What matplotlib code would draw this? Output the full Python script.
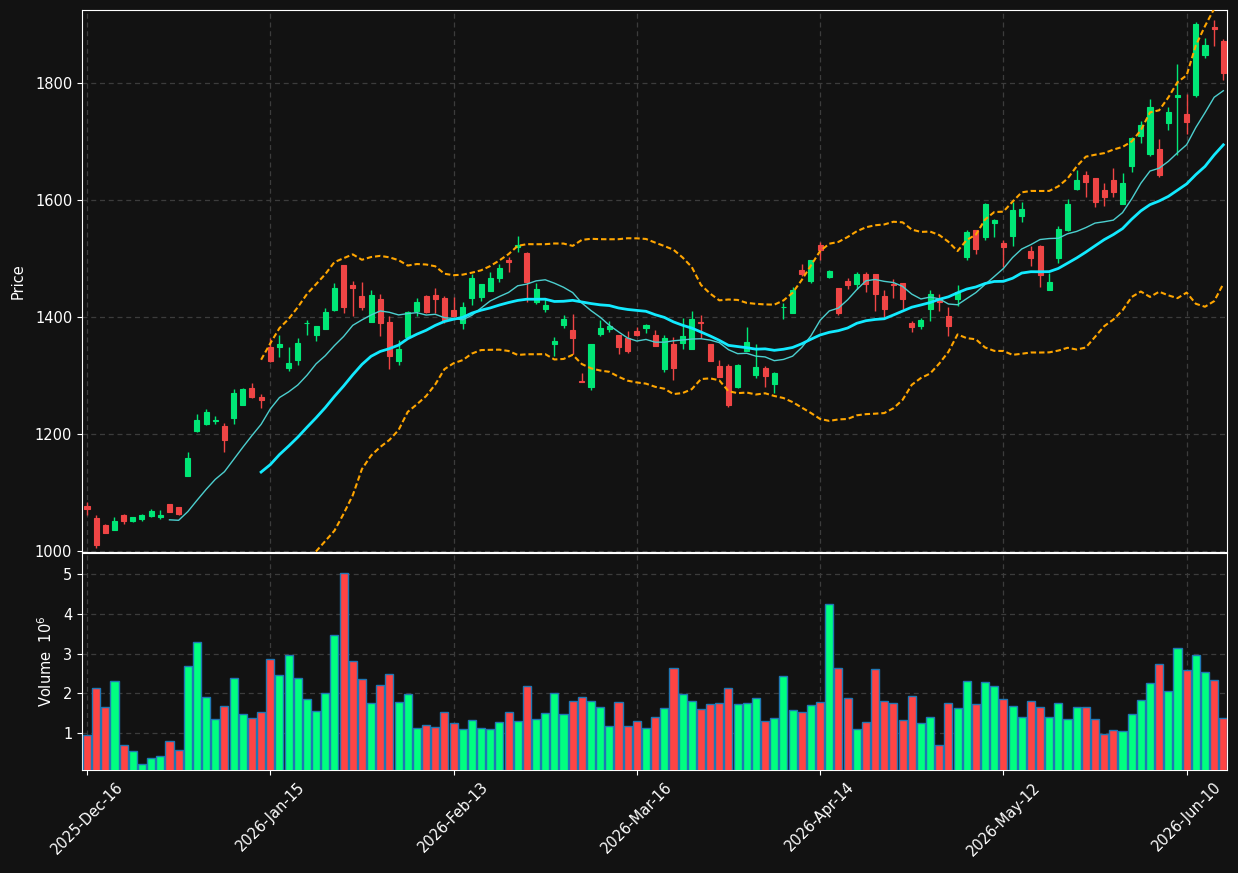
import numpy as np
import pandas as pd
import matplotlib
matplotlib.use("Agg")
import matplotlib.pyplot as plt

# ============================================================
# DATA
# ============================================================

opens = [1077, 1056, 1044, 1036, 1062, 1052, 1055, 1060, 1058, 1080,
         1076, 1129, 1205, 1217, 1222, 1214, 1228, 1250, 1279, 1263,
         1348, 1349, 1313, 1327, 1389, 1369, 1380, 1412, 1489, 1455,
         1436, 1392, 1431, 1391, 1324, 1366, 1411, 1436, 1437, 1433,
         1412, 1389, 1433, 1434, 1444, 1467, 1498, 1519, 1509, 1426,
         1414, 1354, 1386, 1378, 1291, 1281, 1371, 1380, 1369, 1364,
         1376, 1382, 1370, 1312, 1354, 1356, 1346, 1392, 1354, 1316,
         1316, 1281, 1342, 1301, 1313, 1286, 1417, 1407, 1480, 1462,
         1524, 1469, 1450, 1461, 1457, 1474, 1474, 1436, 1457, 1458,
         1390, 1385, 1414, 1430, 1402, 1431, 1503, 1549, 1537, 1560,
         1527, 1539, 1573, 1513, 1522, 1446, 1501, 1548, 1619, 1643,
         1638, 1617, 1634, 1593, 1659, 1710, 1679, 1687, 1732, 1777,
         1747, 1780, 1848, 1896, 1872]
highs = [1083, 1061, 1047, 1058, 1063, 1058, 1063, 1071, 1070, 1081,
         1076, 1169, 1234, 1242, 1231, 1219, 1277, 1279, 1287, 1268,
         1364, 1369, 1348, 1365, 1395, 1385, 1415, 1459, 1489, 1462,
         1460, 1447, 1440, 1401, 1360, 1410, 1432, 1438, 1449, 1436,
         1434, 1425, 1474, 1456, 1477, 1490, 1503, 1539, 1511, 1459,
         1432, 1366, 1403, 1405, 1304, 1354, 1395, 1393, 1369, 1376,
         1383, 1388, 1377, 1369, 1366, 1398, 1410, 1403, 1354, 1327,
         1320, 1320, 1383, 1354, 1316, 1306, 1424, 1452, 1491, 1497,
         1529, 1481, 1450, 1466, 1477, 1477, 1474, 1446, 1465, 1458,
         1394, 1399, 1447, 1440, 1418, 1454, 1548, 1549, 1595, 1568,
         1531, 1597, 1597, 1521, 1523, 1476, 1556, 1602, 1652, 1649,
         1638, 1629, 1654, 1647, 1708, 1735, 1773, 1705, 1759, 1833,
         1781, 1904, 1877, 1907, 1876]
lows = [1062, 1005, 1030, 1036, 1046, 1049, 1052, 1058, 1055, 1066,
        1062, 1128, 1204, 1216, 1217, 1170, 1217, 1249, 1262, 1244,
        1323, 1332, 1307, 1318, 1369, 1359, 1379, 1411, 1407, 1401,
        1412, 1391, 1368, 1311, 1318, 1365, 1402, 1407, 1407, 1389,
        1400, 1379, 1421, 1427, 1444, 1460, 1477, 1512, 1425, 1423,
        1408, 1333, 1382, 1336, 1289, 1276, 1368, 1375, 1337, 1338,
        1368, 1373, 1351, 1306, 1292, 1345, 1345, 1365, 1324, 1298,
        1247, 1278, 1342, 1296, 1281, 1270, 1396, 1407, 1471, 1458,
        1497, 1466, 1404, 1448, 1448, 1442, 1410, 1396, 1433, 1414,
        1374, 1379, 1394, 1410, 1367, 1419, 1498, 1507, 1531, 1536,
        1485, 1522, 1563, 1488, 1452, 1446, 1492, 1547, 1617, 1605,
        1588, 1590, 1605, 1593, 1648, 1698, 1675, 1640, 1719, 1677,
        1713, 1777, 1843, 1863, 1805]
closes = [1071, 1011, 1031, 1051, 1052, 1058, 1062, 1068, 1062, 1067,
          1063, 1159, 1224, 1238, 1224, 1189, 1270, 1277, 1263, 1259,
          1325, 1354, 1321, 1356, 1390, 1385, 1409, 1450, 1418, 1450,
          1418, 1438, 1390, 1333, 1345, 1408, 1425, 1409, 1431, 1393,
          1402, 1417, 1467, 1456, 1467, 1484, 1494, 1523, 1460, 1448,
          1421, 1359, 1397, 1365, 1289, 1354, 1381, 1385, 1348, 1342,
          1370, 1386, 1351, 1364, 1313, 1368, 1397, 1390, 1325, 1298,
          1250, 1318, 1357, 1315, 1300, 1304, 1418, 1446, 1474, 1497,
          1515, 1478, 1407, 1455, 1474, 1456, 1440, 1414, 1454, 1431,
          1383, 1395, 1439, 1426, 1385, 1443, 1545, 1517, 1593, 1566,
          1520, 1583, 1585, 1501, 1472, 1460, 1550, 1593, 1634, 1631,
          1597, 1606, 1613, 1629, 1706, 1728, 1759, 1642, 1750, 1779,
          1734, 1901, 1865, 1893, 1818]
# volume in millions
volumes = [0.95, 2.13, 1.65, 2.31, 0.70, 0.55, 0.22, 0.37, 0.42, 0.80,
           0.57, 2.68, 3.29, 1.90, 1.35, 1.68, 2.38, 1.48, 1.38, 1.53,
           2.86, 2.46, 2.97, 2.38, 1.85, 1.55, 2.00, 3.46, 5.02, 2.81,
           2.36, 1.75, 2.21, 2.48, 1.78, 1.98, 1.12, 1.20, 1.15, 1.53,
           1.25, 1.10, 1.33, 1.12, 1.10, 1.28, 1.53, 1.30, 2.18, 1.35,
           1.50, 2.00, 1.48, 1.80, 1.90, 1.80, 1.65, 1.17, 1.78, 1.17,
           1.30, 1.12, 1.40, 1.63, 2.63, 1.98, 1.80, 1.60, 1.73, 1.75,
           2.13, 1.73, 1.75, 1.88, 1.30, 1.38, 2.43, 1.58, 1.53, 1.70,
           1.78, 4.24, 2.63, 1.88, 1.10, 1.28, 2.61, 1.80, 1.75, 1.33,
           1.93, 1.25, 1.40, 0.70, 1.75, 1.63, 2.31, 1.73, 2.28, 2.18,
           1.85, 1.68, 1.40, 1.80, 1.65, 1.40, 1.75, 1.35, 1.65, 1.65,
           1.35, 0.97, 1.07, 1.05, 1.48, 1.83, 2.26, 2.73, 2.06, 3.14,
           2.58, 2.96, 2.53, 2.33, 1.38]

tick_idx = [0, 20, 40, 60, 80, 100, 120]
tick_labels = ['2025-Dec-16', '2026-Jan-15', '2026-Feb-13', '2026-Mar-16',
               '2026-Apr-14', '2026-May-12', '2026-Jun-10']

# ============================================================
# INDICATORS
# ============================================================

df = pd.DataFrame({'open': opens, 'high': highs, 'low': lows,
                   'close': closes, 'volume': volumes})
df['ma10'] = df['close'].rolling(10).mean()
df['ma20'] = df['close'].rolling(20).mean()
std20 = df['close'].rolling(20).std()
df['bb_up'] = df['ma20'] + 2 * std20
df['bb_dn'] = df['ma20'] - 2 * std20

x = np.arange(len(df))
up = df['close'] >= df['open']

BG = '#121212'
GREEN = '#00e676'
RED = '#ef4545'
VGREEN = '#00ff80'
VRED = '#ff4444'
candle_col = np.where(up, GREEN, RED)
vol_col = np.where(up, VGREEN, VRED)

# ============================================================
# PLOT
# ============================================================

fig = plt.figure(figsize=(12.38, 8.73), dpi=100, facecolor=BG)
ax1 = fig.add_axes([0.0662, 0.3677, 0.9249, 0.6209])
ax2 = fig.add_axes([0.0662, 0.118, 0.9249, 0.2486], sharex=ax1)

for ax in (ax1, ax2):
    ax.set_facecolor(BG)
    for sp in ax.spines.values():
        sp.set_color('white')
    ax.grid(True, linestyle='--', color='#3c3c3c', linewidth=0.9, dashes=(4, 3))
    ax.set_axisbelow(True)
    ax.tick_params(colors='white', labelsize=10.5)

# candles
ax1.vlines(x, df['low'], df['high'], colors=candle_col, linewidth=1.0, zorder=2)
body_lo = np.minimum(df['open'], df['close'])
body_h = np.abs(df['close'] - df['open'])
ax1.bar(x, body_h, bottom=body_lo, width=0.55, color=candle_col,
        edgecolor=candle_col, linewidth=0.8, zorder=3)

# moving averages and bands
ax1.plot(x, df['ma10'], color='#4ccfcf', linewidth=1.0, zorder=4)
ax1.plot(x, df['ma20'], color='#12eaff', linewidth=2.0, zorder=4)
ax1.plot(x, df['bb_up'], color='#ffa500', linewidth=1.5, dashes=(2.6, 1.4), zorder=4)
ax1.plot(x, df['bb_dn'], color='#ffa500', linewidth=1.5, dashes=(2.6, 1.4), zorder=4)

ax1.set_ylim(998.3, 1925)
ax1.set_yticks([1000, 1200, 1400, 1600, 1800])
ax1.set_ylabel('Price', color='white', fontsize=10.5, labelpad=7)
ax1.tick_params(axis='x', bottom=False, labelbottom=False)

# volume
ax2.bar(x, df['volume'], width=0.88, color=vol_col, edgecolor='#1f77b4',
        linewidth=1.0, zorder=3)
ax2.set_ylim(0.07, 5.53)
ax2.set_yticks([1, 2, 3, 4, 5])
ax2.set_ylabel('Volume  $10^{6}$', color='white', fontsize=10.5, labelpad=5.5)

ax2.set_xlim(-0.55, len(df) - 1 + 0.4)
ax2.set_xticks(tick_idx)
ax2.set_xticklabels(tick_labels, rotation=45, fontsize=10.5, color='white')

fig.savefig('out.png', dpi=100, facecolor=BG)
